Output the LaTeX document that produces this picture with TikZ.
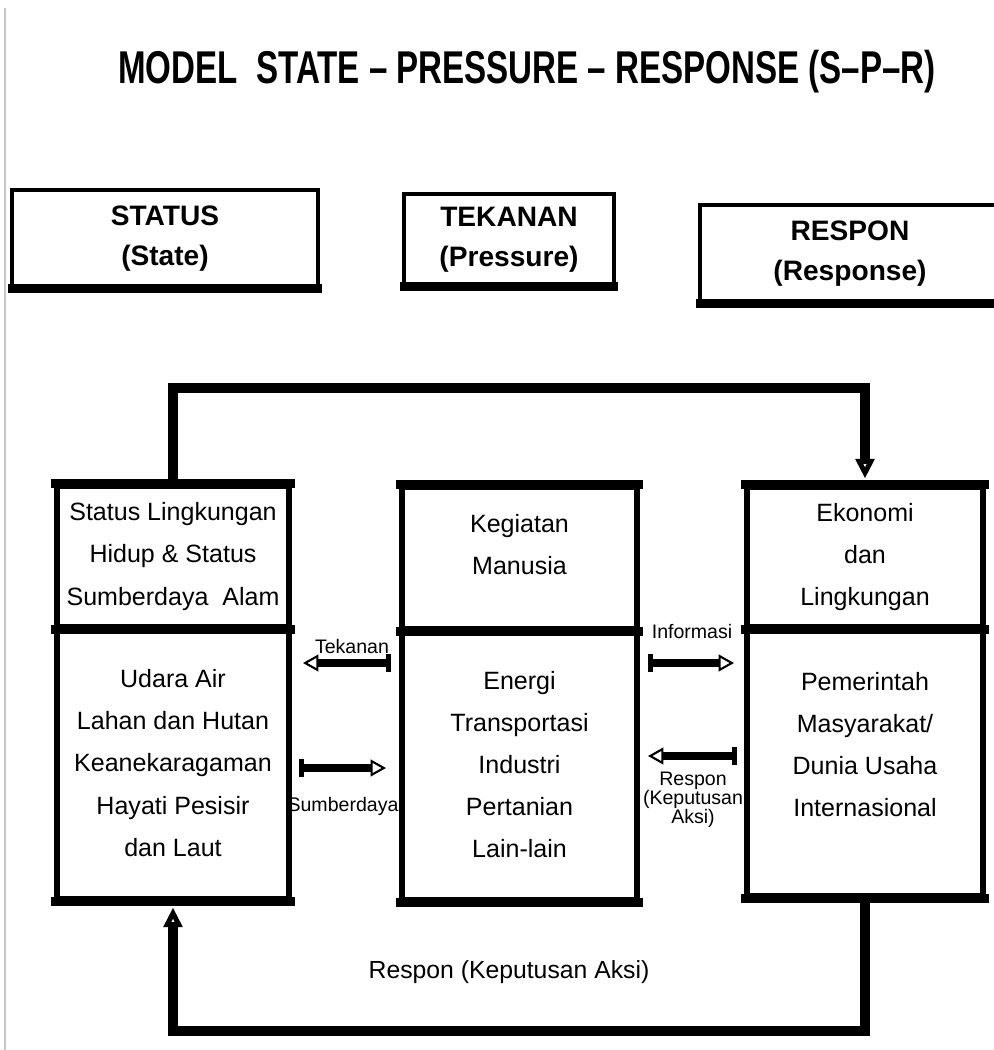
\documentclass[tikz,border=0pt]{standalone}
\usepackage{fontspec}
\setmainfont{Liberation Sans}
\usepackage{graphicx}
\usetikzlibrary{arrows.meta,positioning}
\tikzset{sp/.style={draw,line width=4pt,inner sep=0pt,align=center,font=\fontsize{17.8}{29.9}\selectfont},
 hd/.style={draw,line width=2.2pt,inner sep=0pt,align=center,font=\fontsize{20}{28.5}\selectfont\bfseries},
 txt/.style={align=center,font=\fontsize{17.6}{29.9}\selectfont},
 sml/.style={align=center,inner sep=0pt,font=\fontsize{13.9}{13.5}\selectfont},
 bar/.style={line width=6.5pt,shorten <=-2.5pt,shorten >=-2.5pt},hbar/.style={line width=7pt,shorten <=-1.5pt,shorten >=-1.5pt},
 flow/.style={line width=7.5pt,shorten >=4pt,-{Triangle[open,length=14pt,width=13pt,line width=3.5pt]}},
 wire/.style={line width=5.7pt,{Bar[width=13pt,line width=3.5pt]}-{Triangle[open,length=11pt,width=12pt,line width=1.5pt]}}}

\begin{document}
\begin{tikzpicture}[x=.025cm,y=-.025cm]
\useasboundingbox (0,0) rectangle (993,1050);
\draw[gray!45,line width=1.5pt] (5,8) -- (5,1050);
\node (title) at (527,72){\scalebox{.72}[1]{\fontsize{32.7}{36}\selectfont\bfseries MODEL\ \ STATE -- PRESSURE -- RESPONSE (S--P--R)}};
% kotak judul
\node[hd,minimum width=7.65cm,minimum height=2.425cm] (stat) at (165,238.5){STATUS\\(State)};
\node[hd,minimum width=5.25cm,minimum height=2.275cm] (tek) at (509,239.5){TEKANAN\\(Pressure)};
\node[hd,minimum width=7.5cm,minimum height=2.425cm] (resp) at (850,253.5){RESPON\\(Response)};
\foreach \n in {stat,tek,resp}{\draw[hbar] (\n.south west) -- (\n.south east);}
% tiga kotak utama
\node[sp,minimum width=5.8cm,minimum height=3.525cm] (sU) at (173,556.5){Status Lingkungan\\Hidup \& Status\\Sumberdaya\ \ Alam};
\node[sp,minimum width=5.8cm,minimum height=6.8cm] (sL) at (173,763){Udara Air\\Lahan dan Hutan\\Keanekaragaman\\Hayati Pesisir\\dan Laut};
\node[sp,minimum width=5.875cm,minimum height=3.55cm] (mU) at (519.5,558){Kegiatan\\Manusia\\[-10pt]\mbox{}};
\node[sp,minimum width=5.875cm,minimum height=6.775cm] (mL) at (519.5,764.5){Energi\\Transportasi\\Industri\\Pertanian\\Lain-lain};
\node[sp,minimum width=5.9cm,minimum height=3.5cm] (rU) at (865,557){Ekonomi\\dan\\Lingkungan};
\node[sp,minimum width=5.9cm,minimum height=6.725cm] (rL) at (865,761.5){Pemerintah\\Masyarakat/\\Dunia Usaha\\Internasional\\[-6pt]\mbox{}};
\foreach \n in {s,m,r}{
 \draw[bar] (\n U.north west) -- (\n U.north east);
 \draw[bar] (\n U.south west) -- (\n U.south east);
 \draw[bar] (\n L.south west) -- (\n L.south east);}
% umpan balik
\draw[flow] (sU.north) -- ++(0,-95) -| (rU.north);
\draw[flow] (rL.south) -- ++(0,132) -| (sL.south);
\node[txt] (aksi) at (509,972){Respon (Keputusan Aksi)};
% panah kecil
\coordinate (tekS) at (391,663);\coordinate (tekE) at (303,663);
\coordinate (sdS) at (299,768);\coordinate (sdE) at (386,768);
\coordinate (infS) at (648,663);\coordinate (infE) at (734,663);
\coordinate (rspS) at (737,756);\coordinate (rspE) at (648,756);
\draw[wire] (tekS) -- (tekE);\draw[wire] (sdS) -- (sdE);
\draw[wire] (infS) -- (infE);\draw[wire] (rspS) -- (rspE);
\node[sml] (tekL) at (352,647){Tekanan};
\node[sml] (sdL) at (343,806){Sumberdaya};
\node[sml] (infL) at (692,632){Informasi};
\node[sml] (rspL) at (693,800){Respon\\(Keputusan\\Aksi)};
\end{tikzpicture}
\end{document}
